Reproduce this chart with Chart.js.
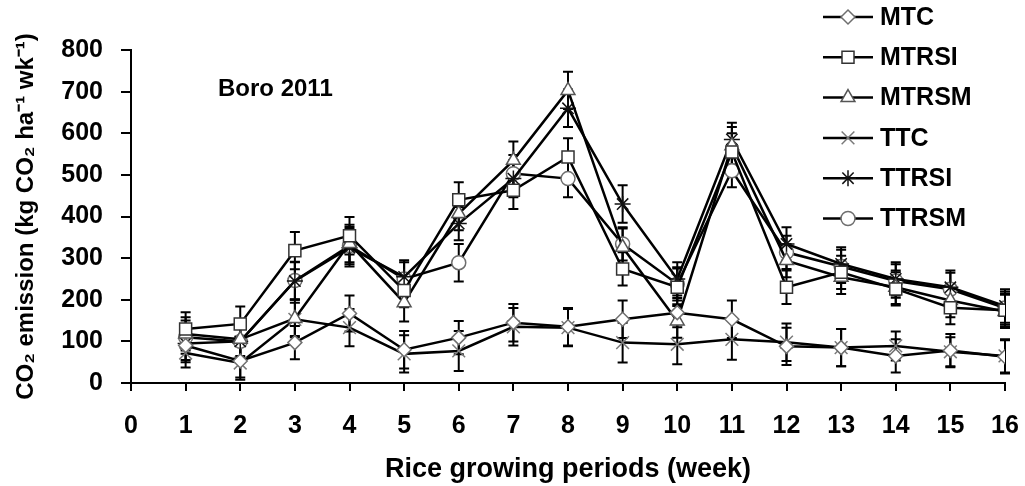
<!DOCTYPE html>
<html>
<head>
<meta charset="utf-8">
<script src="https://cdn.jsdelivr.net/npm/chart.js@4.4.1/dist/chart.umd.min.js"></script>
<style>
  html, body { margin: 0; padding: 0; background: #fff; }
  #wrap { width: 1025px; height: 486px; }
</style>
</head>
<body>
<div id="wrap"><canvas id="chart" width="1025" height="486"></canvas></div>
<script>
const weeks = [1, 2, 3, 4, 5, 6, 7, 8, 9, 10, 11, 12, 13, 14, 15, 16];

const mtc   = [90, 53, 97, 167, 80, 109, 145, 135, 153, 169, 153, 88, 85, 65, 78, 63];
const mtrsi = [130, 142, 318, 354, 222, 440, 463, 543, 274, 230, 555, 230, 266, 226, 181, 175];
const mtrsm = [118, 105, 155, 335, 193, 407, 535, 703, 326, 149, 570, 294, 254, 230, 198, 172];
const ttc   = [72, 48, 153, 133, 70, 77, 135, 133, 97, 93, 105, 98, 85, 89, 75, 65];
const ttrsi = [95, 100, 245, 325, 255, 383, 491, 660, 430, 250, 585, 334, 286, 250, 230, 185];
const ttrsm = [110, 100, 246, 330, 250, 289, 503, 491, 334, 238, 510, 314, 280, 245, 225, 180];

// standard error (+/-) for each point
const mtcErr   = [40, 40, 40, 43, 45, 40, 45, 45, 45, 35, 45, 45, 45, 40, 40, 40];
const mtrsiErr = [40, 42, 45, 45, 40, 42, 45, 45, 40, 45, 45, 40, 40, 40, 40, 40];
const mtrsmErr = [40, 40, 45, 45, 45, 40, 45, 45, 45, 40, 45, 40, 40, 40, 40, 40];
const ttcErr   = [35, 40, 40, 45, 45, 48, 45, 45, 48, 48, 49, 45, 45, 35, 35, 40];
const ttrsiErr = [40, 40, 45, 45, 40, 40, 45, 45, 45, 40, 40, 40, 40, 40, 40, 40];
const ttrsmErr = [40, 40, 45, 45, 40, 45, 45, 45, 40, 40, 40, 40, 40, 40, 40, 40];

const seriesLabels = ["MTC", "MTRSI", "MTRSM", "TTC", "TTRSI", "TTRSM"];
const seasonLabel = "Boro 2011";

const FONT = "'Liberation Sans', Arial, sans-serif";

function makeSet(label, values, errors, style, radius, markColor) {
    return {
        label: label,
        data: weeks.map((w, i) => ({ x: w, y: values[i] })),
        errors: errors,
        borderColor: "#000",
        borderWidth: 2.5,
        pointStyle: style,
        pointRadius: radius,
        pointHoverRadius: radius,
        pointBackgroundColor: "#fff",
        pointBorderColor: markColor,
        pointBorderWidth: 1.5,
        tension: 0,
        fill: false
    };
}

const datasets = [
    makeSet(seriesLabels[0], mtc, mtcErr, "rectRot", 7, "#6e6e6e"),
    makeSet(seriesLabels[1], mtrsi, mtrsiErr, "rect", 8.5, "#333"),
    makeSet(seriesLabels[2], mtrsm, mtrsmErr, "triangle", 8, "#555"),
    makeSet(seriesLabels[3], ttc, ttcErr, "crossRot", 9, "#7a7a7a"),
    makeSet(seriesLabels[4], ttrsi, ttrsiErr, "star", 8, "#111"),
    makeSet(seriesLabels[5], ttrsm, ttrsmErr, "circle", 7, "#6e6e6e")
];

// error bars with caps, drawn under the markers
const errorBars = {
    id: "errorBars",
    beforeDatasetsDraw(chart) {
        const { ctx } = chart;
        const x = chart.scales.x, y = chart.scales.y;
        ctx.save();
        ctx.strokeStyle = "#000";
        ctx.lineWidth = 2;
        chart.data.datasets.forEach(ds => {
            ds.data.forEach((p, i) => {
                const px = x.getPixelForValue(p.x);
                const top = y.getPixelForValue(p.y + ds.errors[i]);
                const bot = y.getPixelForValue(Math.max(p.y - ds.errors[i], 0));
                ctx.beginPath();
                ctx.moveTo(px, top); ctx.lineTo(px, bot);
                ctx.moveTo(px - 5, top); ctx.lineTo(px + 5, top);
                ctx.moveTo(px - 5, bot); ctx.lineTo(px + 5, bot);
                ctx.stroke();
            });
        });
        ctx.restore();
    }
};

// legend stacked at the top right, overlapping the plot like the original
const sideLegend = {
    id: "sideLegend",
    afterDraw(chart) {
        const { ctx } = chart;
        ctx.save();
        chart.data.datasets.forEach((ds, i) => {
            const yy = 17 + i * 40.3;
            ctx.strokeStyle = "#000";
            ctx.lineWidth = 2.5;
            ctx.beginPath();
            ctx.moveTo(823, yy); ctx.lineTo(873, yy);
            ctx.stroke();
            ctx.fillStyle = "#fff";
            ctx.strokeStyle = ds.pointBorderColor;
            ctx.lineWidth = 1.5;
            Chart.helpers.drawPoint(ctx, {
                pointStyle: ds.pointStyle,
                radius: ds.pointRadius,
                rotation: 0,
                borderWidth: 1.5
            }, 848, yy);
            ctx.fillStyle = "#000";
            ctx.font = "bold 25px " + FONT;
            ctx.textBaseline = "middle";
            ctx.textAlign = "left";
            ctx.fillText(ds.label, 880, yy + 1);
        });
        ctx.fillStyle = "#000";
        ctx.font = "bold 24px " + FONT;
        ctx.textBaseline = "alphabetic";
        ctx.fillText(seasonLabel, 218, 96);
        ctx.restore();
    }
};

const ctx = document.getElementById("chart").getContext("2d");
new Chart(ctx, {
    type: "line",
    data: { datasets: datasets },
    plugins: [errorBars, sideLegend],
    options: {
        responsive: false,
        animation: false,
        layout: { padding: { top: 50, right: 0, left: 0, bottom: 0 } },
        plugins: {
            legend: { display: false },
            tooltip: { enabled: false }
        },
        scales: {
            x: {
                type: "linear",
                min: 0,
                max: 16,
                afterFit: s => { s.height = 103; s.paddingRight = 20; s.paddingLeft = 0; },
                ticks: {
                    stepSize: 1,
                    color: "#000",
                    padding: 20,
                    font: { family: FONT, size: 25, weight: "bold" }
                },
                grid: { drawOnChartArea: false, drawTicks: true, tickLength: 8, color: "#000", lineWidth: 2 },
                border: { color: "#000", width: 2 },
                title: {
                    display: true,
                    text: "Rice growing periods (week)",
                    color: "#000",
                    padding: { top: 0, bottom: 0 },
                    font: { family: FONT, size: 27, weight: "bold" }
                }
            },
            y: {
                min: 0,
                max: 800,
                afterFit: s => { s.width = 131; },
                ticks: {
                    stepSize: 100,
                    color: "#000",
                    padding: 18,
                    font: { family: FONT, size: 25, weight: "bold" }
                },
                grid: { drawOnChartArea: false, drawTicks: true, tickLength: 10, color: "#000", lineWidth: 2 },
                border: { color: "#000", width: 2 },
                title: {
                    display: true,
                    text: "CO₂ emission (kg CO₂ ha⁻¹ wk⁻¹)",
                    color: "#000",
                    padding: { top: 12, bottom: 0 },
                    font: { family: FONT, size: 24, weight: "bold" }
                }
            }
        }
    }
});
</script>
</body>
</html>
